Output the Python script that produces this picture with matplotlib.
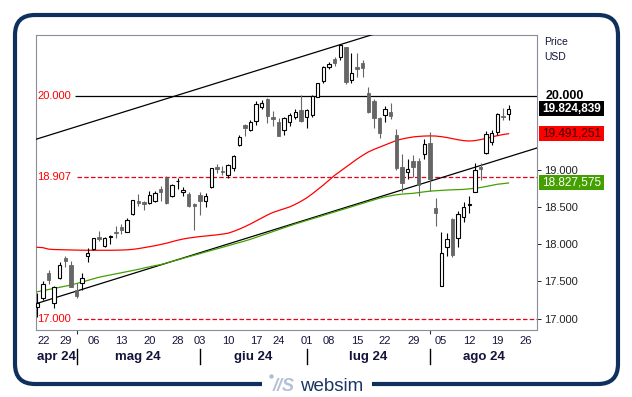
import matplotlib
matplotlib.use('Agg')
import matplotlib.pyplot as plt
import matplotlib.transforms as mtransforms
from matplotlib.patches import FancyBboxPatch, Rectangle, Circle
import numpy as np

plt.rcParams['font.family'] = ['Liberation Sans', 'DejaVu Sans']

# candele giornaliere 22 apr - 21 ago 2024 (indice = giorno di borsa)
opens = [17160, 17272, 17614, 17205, 17550, 17810, 17721, 17384, 17475, 17843,
         17937, 18095, 17982, 18095, 18170, 18227, 18170, 18405, 18584, 18575,
         18553, 18588, 18742, 18898, 18656, 18850, 18702, 18679, 18540, 18665,
         18588, 18769, 19047, 18994, 18939, 19025, 19339, 19609, 19542, 19667,
         19856, 19960, 19713, 19645, 19542, 19650, 19721, 19811, 19713, 19740,
         19982, 20206, 20387, 20494, 20530, 20656, 20216, 20391, 20441, 20044,
         19937, 19699, 19740, 19788, 19470, 19039, 18980, 19124, 19124, 19214,
         19362, 18494, 17438, 17960, 18338, 18090, 18365, 18530, 18710, 19039,
         19236, 19384, 19511, 19730, 19753]
highs = [17344, 17505, 17660, 17440, 17760, 17840, 17780, 17483, 17620, 17950,
         18090, 18180, 18100, 18120, 18250, 18270, 18360, 18600, 18680, 18590,
         18720, 18720, 18780, 18920, 18820, 18890, 18770, 18700, 18560, 18700,
         18688, 19030, 19080, 19060, 19080, 19200, 19480, 19622, 19680, 19930,
         19940, 19969, 19800, 19700, 19710, 19770, 19830, 20013, 19820, 20010,
         20180, 20400, 20460, 20520, 20697, 20660, 20575, 20575, 20485, 20120,
         19960, 19720, 19860, 19906, 19560, 19218, 19150, 19210, 19160, 19416,
         19519, 18621, 18162, 18150, 18360, 18450, 18575, 18656, 19090, 19092,
         19530, 19542, 19770, 19834, 19879]
lows = [17024, 17250, 17460, 17140, 17530, 17700, 17420, 17272, 17380, 17760,
        17930, 18040, 17970, 18000, 18080, 18140, 18160, 18390, 18520, 18460,
        18540, 18570, 18590, 18550, 18640, 18740, 18650, 18510, 18193, 18395,
        18508, 18756, 18960, 18940, 18900, 18990, 19326, 19461, 19530, 19610,
        19830, 19640, 19600, 19460, 19480, 19600, 19690, 19650, 19568, 19720,
        19980, 20170, 20370, 20400, 20480, 20158, 20180, 20260, 20256, 19770,
        19565, 19430, 19650, 19690, 19000, 18710, 18880, 18910, 18656, 19150,
        18723, 18251, 17433, 17843, 17830, 17960, 18306, 18418, 18700, 18867,
        19220, 19340, 19480, 19676, 19676]
closes = [17213, 17461, 17519, 17429, 17721, 17775, 17429, 17308, 17546, 17887,
          18081, 18072, 18081, 18112, 18149, 18190, 18328, 18598, 18553, 18544,
          18665, 18696, 18702, 18560, 18800, 18858, 18733, 18521, 18521, 18588,
          18652, 19025, 19012, 18980, 19065, 19195, 19451, 19564, 19654, 19888,
          19910, 19734, 19690, 19465, 19699, 19740, 19784, 19667, 19811, 20004,
          20171, 20395, 20431, 20441, 20688, 20193, 20314, 20368, 20373, 19788,
          19699, 19505, 19820, 19734, 19025, 18823, 19012, 19047, 18800, 19349,
          18877, 18427, 17887, 18068, 17856, 18405, 18500, 18545, 19002, 19012,
          19488, 19497, 19757, 19713, 19824.839]

# medie mobili (rossa e verde)
ma_red = [17960, 17955, 17935, 17930, 17928, 17926, 17924, 17922, 17921, 17920,
          17920, 17920, 17920, 17920, 17921, 17923, 17926, 17932, 17942, 17955,
          17968, 17982, 17998, 18015, 18035, 18055, 18072, 18085, 18095, 18105,
          18112, 18120, 18128, 18138, 18150, 18175, 18205, 18238, 18275, 18315,
          18355, 18395, 18430, 18455, 18480, 18505, 18540, 18580, 18625, 18680,
          18740, 18800, 18865, 18930, 18985, 19040, 19095, 19150, 19200, 19245,
          19280, 19310, 19340, 19370, 19400, 19420, 19435, 19448, 19455, 19460,
          19462, 19460, 19452, 19440, 19425, 19410, 19398, 19393, 19398, 19412,
          19428, 19448, 19465, 19480, 19491.251]
ma_green = [17361, 17376, 17391, 17406, 17421, 17436, 17452, 17472, 17493, 17514,
            17535, 17556, 17572, 17587, 17602, 17617, 17632, 17647, 17663, 17680,
            17697, 17713, 17727, 17748, 17769, 17790, 17812, 17833, 17854, 17875,
            17897, 17918, 17939, 17960, 17981, 18003, 18024, 18045, 18068, 18094,
            18120, 18146, 18172, 18198, 18224, 18250, 18275, 18298, 18321, 18344,
            18367, 18390, 18414, 18437, 18460, 18483, 18506, 18530, 18553, 18576,
            18599, 18622, 18640, 18655, 18668, 18677, 18683, 18688, 18698, 18708,
            18717, 18722, 18727, 18732, 18735, 18738, 18741, 18748, 18757, 18766,
            18780, 18795, 18810, 18818, 18827.575]

# trendline (due punti ciascuna: indice, valore)
trend_low = [(0, 17205), (89.1, 19300)]
trend_high = [(-0.25, 19416), (59.8, 20829)]

# livelli orizzontali
level_top = 20000
level_mid = 18907
level_bottom = 17000

# asse x
week_idx = [0, 5, 10, 15, 20, 25, 29, 34, 39, 43, 48, 52, 57, 62, 67, 72, 77, 82, 87]
week_labels = ['22', '29', '06', '13', '20', '28', '03', '10', '17', '24',
               '01', '08', '15', '22', '29', '05', '12', '19', '26']
month_start = [0, 7, 29, 48, 70]
month_labels = ['apr 24', 'mag 24', 'giu 24', 'lug 24', 'ago 24']

y_ticks = [17000, 17500, 18000, 18500, 19000]
y_tick_labels = ['17.000', '17.500', '18.000', '18.500', '19.000']

XMIN, XMAX = -0.23, 89.07
YMIN, YMAX = 16845, 20829
NAVY = '#0f2f5c'
TXT = '#14143a'


def fmt_it(v):
    s = '{:,.3f}'.format(v)
    return s.replace(',', 'X').replace('.', ',').replace('X', '.')


def draw_candles(ax):
    o = np.array(opens)
    h = np.array(highs)
    l = np.array(lows)
    c = np.array(closes)
    idx = np.arange(len(c))
    up = c >= o
    gray = '#666666'
    ax.vlines(idx[up], l[up], h[up], color='black', lw=0.8, zorder=4)
    ax.vlines(idx[~up], l[~up], h[~up], color=gray, lw=0.8, zorder=4)
    lo = np.minimum(o, c)
    hh = np.maximum(np.abs(c - o), 8)
    ax.bar(idx[up], hh[up], 0.6, bottom=lo[up], facecolor='white',
           edgecolor='black', lw=0.8, zorder=5)
    ax.bar(idx[~up], hh[~up], 0.6, bottom=lo[~up], facecolor=gray,
           edgecolor=gray, lw=0.6, zorder=5)


def draw_chart():
    fig = plt.figure(figsize=(6.32, 3.97), dpi=100)
    ax = fig.add_axes([36 / 632, 1 - 330 / 397, 501 / 632, 295.5 / 397])
    ax.set_xlim(XMIN, XMAX)
    ax.set_ylim(YMIN, YMAX)
    for sp in ax.spines.values():
        sp.set_color('#8c8c9c')
        sp.set_linewidth(0.8)

    idx = np.arange(len(closes))

    # livelli orizzontali con etichetta rossa a sinistra
    ax.hlines(level_top, 6.8, XMAX, color='black', lw=0.9, zorder=2)
    dash = (0, (3.6, 1.8))
    ax.hlines(level_mid, 7.1, XMAX, color='#e8001c', lw=0.9, linestyles=dash, zorder=2)
    ax.hlines(level_bottom, 7.1, XMAX, color='#e8001c', lw=0.9, linestyles=dash, zorder=2)
    for v in (level_top, level_mid, level_bottom):
        ax.text(-0.05, v, fmt_it(v)[:-4], color='#ff0000', fontsize=8,
                ha='left', va='center', zorder=6)

    # trendline
    ax.plot([p[0] for p in trend_low], [p[1] for p in trend_low], color='black', lw=0.9, zorder=3)
    ax.plot([p[0] for p in trend_high], [p[1] for p in trend_high], color='black', lw=0.9, zorder=3)

    # medie mobili
    ax.plot(idx, ma_red, color='#ff0000', lw=0.9, zorder=3)
    ax.plot(idx, ma_green, color='#44a000', lw=0.9, zorder=3)

    draw_candles(ax)

    # asse y a destra
    ax.yaxis.tick_right()
    ax.set_yticks(y_ticks)
    ax.set_yticklabels(y_tick_labels)
    ax.tick_params(axis='y', length=3, width=0.7, pad=2, labelsize=8,
                   colors='#222222')
    trans_r = mtransforms.blended_transform_factory(ax.transAxes, ax.transData)
    ax.text(1.0 + 9 / 501, level_top, '20.000', transform=trans_r, fontsize=9,
            fontweight='bold', ha='left', va='center', color='black')
    ax.text(1.0 + 7 / 501, 1.0 - 7.5 / 295.5, 'Price', transform=ax.transAxes,
            fontsize=7.5, color=TXT, ha='left', va='center')
    ax.text(1.0 + 7 / 501, 1.0 - 22.5 / 295.5, 'USD', transform=ax.transAxes,
            fontsize=7.5, color=TXT, ha='left', va='center')

    # riquadri ultimi valori
    box_h = 15 / 0.07417
    boxes = [(closes[-1], '#000000', 'white', 'bold'),
             (ma_red[-1], '#ff0000', '#3a0000', 'normal'),
             (ma_green[-1], '#44a000', 'white', 'normal')]
    for v, fc, tc, fw in boxes:
        ax.add_patch(Rectangle((1.0 + 2 / 501, v - box_h / 2), 65 / 501, box_h,
                               transform=trans_r, facecolor=fc, edgecolor='none',
                               clip_on=False, zorder=7))
        ax.text(1.0 + 34.5 / 501, v, fmt_it(v), transform=trans_r, color=tc,
                fontsize=8.5, fontweight=fw, ha='center', va='center',
                zorder=8, clip_on=False)

    # asse x: giorni e mesi
    ax.set_xticks(week_idx)
    ax.set_xticklabels(week_labels)
    ax.tick_params(axis='x', length=0, pad=4, labelsize=8, colors=TXT)
    lbls = ax.get_xticklabels()
    lbls[0].set_horizontalalignment('left')
    ax.set_xticks(month_start, minor=True)
    ax.tick_params(axis='x', which='minor', length=3, width=0.8, color='#333333')

    trans_b = mtransforms.blended_transform_factory(ax.transData, ax.transAxes)
    bounds = month_start[1:] + [XMAX]
    for i, lab in enumerate(month_labels):
        a = month_start[i] if i else 0
        mid = (a + bounds[i]) / 2
        ax.text(mid, -27 / 295.5, lab, transform=trans_b, fontsize=9.5,
                fontweight='bold', color=TXT, ha='center', va='center')
    for m in month_start[1:]:
        ax.plot([m, m], [-19 / 295.5, -34 / 295.5], transform=trans_b,
                color='black', lw=1.0, clip_on=False)

    # cornice arrotondata e logo
    fig.patches.append(FancyBboxPatch((0.15, 0.13), 6.03, 3.69,
                                      boxstyle='round,pad=0,rounding_size=0.2',
                                      transform=fig.dpi_scale_trans, fill=False,
                                      edgecolor=NAVY, lw=3.0))
    fig.patches.append(Rectangle((2.62, 0.0), 1.10, 0.24, transform=fig.dpi_scale_trans,
                                 facecolor='white', edgecolor='none'))
    fig.patches.append(Circle((2.715, 0.205), 0.022, transform=fig.dpi_scale_trans,
                              facecolor='#aebdd2', edgecolor='none'))
    fig.text(2.73, 0.06, '//S', transform=fig.dpi_scale_trans, fontsize=13,
             fontweight='bold', fontstyle='italic', color='#b4c1d4', ha='left',
             va='baseline')
    fig.text(3.00, 0.06, 'websim', transform=fig.dpi_scale_trans, fontsize=13.5,
             color='#1b3663', ha='left', va='baseline')

    fig.savefig('out.png', dpi=100)


if __name__ == '__main__':
    draw_chart()
